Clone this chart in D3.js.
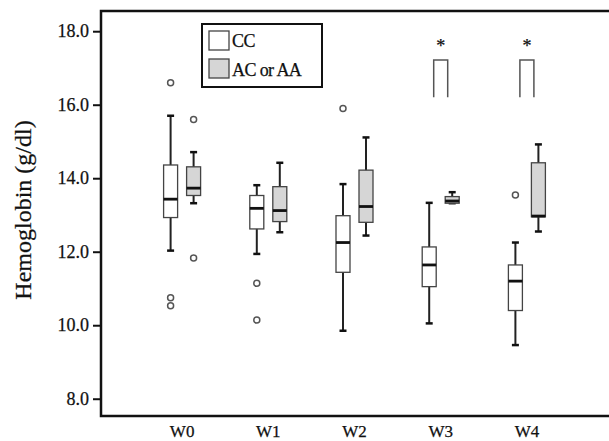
<!DOCTYPE html>
<html>
<head>
<meta charset="utf-8">
<script src="https://cdn.jsdelivr.net/npm/d3@7"></script>
<style>
body { margin:0; background:#fff; }
text { font-family: "Liberation Serif", "Times New Roman", serif; fill:#111; stroke:#111; stroke-width:0.25px; }
</style>
</head>
<body>
<div id="chart"></div>
<script>
////////////////////////////////////////////////////
// data
var weeks = ["W0", "W1", "W2", "W3", "W4"];
var groups = ["CC", "AC or AA"];
var yTicks = [8, 10, 12, 14, 16, 18];

var ccLow  = [12.03, 11.94,  9.85, 10.05,  9.46];
var ccQ1   = [12.93, 12.62, 11.44, 11.05, 10.40];
var ccMed  = [13.43, 13.18, 12.25, 11.64, 11.20];
var ccQ3   = [14.36, 13.53, 12.98, 12.13, 11.64];
var ccHigh = [15.70, 13.81, 13.84, 13.33, 12.25];
var ccOut  = [[16.6, 10.75, 10.53], [11.14, 10.14], [15.9], [], [13.54]];

var acLow  = [13.32, 12.53, 12.44, 13.32, 12.55];
var acQ1   = [13.53, 12.82, 12.80, 13.32, 12.95];
var acMed  = [13.73, 13.12, 13.23, 13.38, 12.97];
var acQ3   = [14.31, 13.77, 14.22, 13.50, 14.42];
var acHigh = [14.71, 14.42, 15.11, 13.62, 14.92];
var acOut  = [[15.6, 11.83], [], [], [], []];

var sigWeeks = ["W3", "W4"];
var sigLow = 16.2, sigTop = 17.22;

////////////////////////////////////////////////////
var totalW = 609, totalH = 441;
var plotLeft = 101, plotTop = 11, plotRight = 620, plotBottom = 416;

var svg = d3.select("#chart").append("svg")
	.attr("width", totalW)
	.attr("height", totalH);

var y = d3.scaleLinear().domain([7.53, 18.55]).range([plotBottom, plotTop]);
var x = d3.scaleBand().domain(weeks).range([139, 570]);
var cx = function(w) { return x(w) + x.bandwidth()/2; };
var off = [-11.5, 11.5];
var boxW = 14, capW = 7;

/////////// AXES
var yAxis = svg.append("g")
	.attr("transform", "translate(" + plotLeft + ",0)")
	.call(d3.axisLeft(y).tickValues(yTicks).tickFormat(d3.format(".1f")).tickSize(8).tickPadding(4));
yAxis.select(".domain").remove();
yAxis.selectAll(".tick line").attr("stroke", "#111").attr("stroke-width", 2);
yAxis.selectAll(".tick text").style("font-size", "18px").attr("fill", "#111");

var xAxis = svg.append("g")
	.attr("transform", "translate(0," + plotBottom + ")")
	.call(d3.axisBottom(x).tickSize(0).tickPadding(9));
xAxis.select(".domain").remove();
xAxis.selectAll(".tick text").style("font-size", "17px").attr("fill", "#111");

// frame (right side runs off the page)
svg.append("path")
	.attr("d", "M" + plotRight + "," + plotTop + "H" + plotLeft + "V" + plotBottom + "H" + plotRight)
	.attr("fill", "none").attr("stroke", "#111").attr("stroke-width", 2.5);

svg.append("text")
	.attr("transform", "translate(31,210) rotate(-90)")
	.attr("text-anchor", "middle")
	.style("font-size", "24px")
	.text("Hemoglobin (g/dl)");

/////////// BOXES
var series = [
	{ low: ccLow, q1: ccQ1, med: ccMed, q3: ccQ3, high: ccHigh, out: ccOut, fill: "#fff" },
	{ low: acLow, q1: acQ1, med: acMed, q3: acQ3, high: acHigh, out: acOut, fill: "#d6d6d6" }
];

series.forEach(function(s, si) {
	var g = svg.append("g");
	var pos = function(i) { return cx(weeks[i]) + off[si]; };
	var idx = d3.range(weeks.length);

	g.selectAll("line.whisk").data(idx).enter().append("line")
		.attr("x1", pos).attr("x2", pos)
		.attr("y1", function(i){ return y(s.low[i]); })
		.attr("y2", function(i){ return y(s.high[i]); })
		.attr("stroke", "#222").attr("stroke-width", 2);
	g.selectAll("line.capLow").data(idx).enter().append("line")
		.attr("x1", function(i){ return pos(i) - capW/2; })
		.attr("x2", function(i){ return pos(i) + capW/2; })
		.attr("y1", function(i){ return y(s.low[i]); })
		.attr("y2", function(i){ return y(s.low[i]); })
		.attr("stroke", "#111").attr("stroke-width", 2.5);
	g.selectAll("line.capHigh").data(idx).enter().append("line")
		.attr("x1", function(i){ return pos(i) - capW/2; })
		.attr("x2", function(i){ return pos(i) + capW/2; })
		.attr("y1", function(i){ return y(s.high[i]); })
		.attr("y2", function(i){ return y(s.high[i]); })
		.attr("stroke", "#111").attr("stroke-width", 2.5);
	g.selectAll("rect").data(idx).enter().append("rect")
		.attr("x", function(i){ return pos(i) - boxW/2; })
		.attr("width", boxW)
		.attr("y", function(i){ return y(s.q3[i]); })
		.attr("height", function(i){ return y(s.q1[i]) - y(s.q3[i]); })
		.attr("fill", s.fill).attr("stroke", "#444").attr("stroke-width", 1.3);
	g.selectAll("line.med").data(idx).enter().append("line")
		.attr("x1", function(i){ return pos(i) - boxW/2; })
		.attr("x2", function(i){ return pos(i) + boxW/2; })
		.attr("y1", function(i){ return y(s.med[i]); })
		.attr("y2", function(i){ return y(s.med[i]); })
		.attr("stroke", "#111").attr("stroke-width", 2.8);

	var outs = [];
	s.out.forEach(function(list, i) { list.forEach(function(v) { outs.push([i, v]); }); });
	g.selectAll("circle").data(outs).enter().append("circle")
		.attr("cx", function(d){ return pos(d[0]); })
		.attr("cy", function(d){ return y(d[1]); })
		.attr("r", 3)
		.attr("fill", "#fff").attr("stroke", "#555").attr("stroke-width", 1.5);
});

/////////// SIGNIFICANCE
svg.selectAll("path.sig").data(sigWeeks).enter().append("path")
	.attr("d", function(w) {
		var xa = cx(w) - 7, xb = cx(w) + 7;
		return "M" + xa + "," + y(sigLow) + "V" + y(sigTop) + "H" + xb + "V" + y(sigLow);
	})
	.attr("fill", "none").attr("stroke", "#555").attr("stroke-width", 1.5);
svg.selectAll("text.sig").data(sigWeeks).enter().append("text")
	.attr("x", function(w){ return cx(w); })
	.attr("y", y(sigTop) - 8)
	.attr("text-anchor", "middle")
	.style("font-size", "18px")
	.text("*");

/////////// LEGEND
var leg = svg.append("g");
leg.append("rect")
	.attr("x", 202).attr("y", 24).attr("width", 120).attr("height", 63)
	.attr("fill", "#fff").attr("stroke", "#111").attr("stroke-width", 2);
leg.selectAll("rect.sw").data(groups).enter().append("rect")
	.attr("x", 209)
	.attr("y", function(d,i){ return 31 + i*28; })
	.attr("width", 20).attr("height", 19)
	.attr("fill", function(d,i){ return series[i].fill; })
	.attr("stroke", "#444").attr("stroke-width", 1.3);
leg.selectAll("text").data(groups).enter().append("text")
	.attr("x", 232)
	.attr("y", function(d,i){ return 47 + i*29; })
	.style("font-size", "18px")
	.style("letter-spacing", "-0.6px")
	.text(function(d){ return d; });
////////////////////////////////////////////////////
</script>
</body>
</html>
